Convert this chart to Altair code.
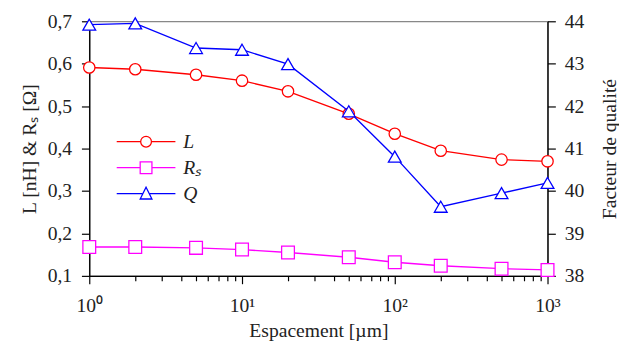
import altair as alt
import pandas as pd

spacing = [1, 2, 5, 10, 20, 50, 100, 200, 500, 1000]
L_vals = [0.591, 0.587, 0.574, 0.560, 0.535, 0.482, 0.435, 0.395, 0.374, 0.370]
Rs_vals = [0.168, 0.168, 0.166, 0.162, 0.155, 0.144, 0.132, 0.124, 0.117, 0.114]
Q_vals = [43.92, 43.95, 43.37, 43.33, 42.99, 41.88, 40.81, 39.63, 39.95, 40.19]

series_names = ["L", "Rₛ", "Q"]
series_colors = ["#ff0000", "#ff00ff", "#0000ff"]

x_ticks = [m * 10 ** k for k in range(3) for m in range(1, 10)] + [1000]

L_df = pd.DataFrame({"x": spacing, "v": L_vals, "s": "L"})
Rs_df = pd.DataFrame({"x": spacing, "v": Rs_vals, "s": "Rₛ"})
Q_df = pd.DataFrame({"x": spacing, "v": Q_vals, "s": "Q"})
leg_df = pd.DataFrame({"x": [1, 1, 1], "v": [0.4, 0.4, 0.4], "s": series_names})

FONT = "Liberation Serif"
FS = 20

xscale = alt.Scale(type="log", domain=[1, 1000], nice=False)
xaxis = alt.Axis(
    values=x_ticks,
    labelExpr="datum.value == 1 ? '10⁰' : datum.value == 10 ? '10¹' : datum.value == 100 ? '10²' : datum.value == 1000 ? '10³' : ''",
    tickSize={"condition": {"test": "indexof([1,10,100,1000], datum.value) >= 0", "value": 8}, "value": 5},
    title="Espacement [µm]",
    labelFlush=False,
    labelOverlap=False,
    labelPadding=12,
    titlePadding=6,
)
yleft_scale = alt.Scale(domain=[0.1, 0.7], nice=False, zero=False)
yleft_axis = alt.Axis(values=[0.1, 0.2, 0.3, 0.4, 0.5, 0.6, 0.7],
                      labelExpr="replace(format(datum.value, '.1f'), '.', ',')",
                      title="L [nH] & Rₛ [Ω]", titlePadding=8, tickSize=8, labelPadding=10)
yright_scale = alt.Scale(domain=[38, 44], nice=False, zero=False)
yright_axis = alt.Axis(orient="right", values=[38, 39, 40, 41, 42, 43, 44],
                       title="Facteur de qualité", titleAngle=270, titleBaseline="top",
                       titlePadding=16, tickSize=8, labelPadding=9)

color_scale = alt.Scale(domain=series_names, range=series_colors)
legend_paths = [
    "M-5.45,0H-1M1,0H5.45M1,0A1,1 0 1,1 -1,0A1,1 0 1,1 1,0",
    "M-5.45,0H-1.09M1.09,0H5.45M-1.09,-1.09H1.09V1.09H-1.09Z",
    "M-5.45,0H-0.7M0.7,0H5.45M0,-1.2L1.09,1L-1.09,1Z",
]
shape_scale = alt.Scale(domain=series_names, range=legend_paths)

legend = alt.Legend(
    title=None,
    orient="none",
    legendX=48,
    legendY=113,
    symbolSize=121,
    symbolStrokeWidth=1.3,
    symbolFillColor="white",
    symbolOpacity=1,
    labelOffset=28,
    labelFont=FONT,
    labelFontSize=FS,
    labelFontStyle="italic",
    labelColor="#222222",
    rowPadding=6.5,
)


def series_layers(df, shape, size):
    base = alt.Chart(df)
    line = base.mark_line(strokeWidth=1.4).encode(
        x=alt.X("x:Q", scale=xscale),
        y=alt.Y("v:Q"),
        stroke=alt.Stroke("s:N", scale=color_scale),
    )
    pts = base.mark_point(filled=True, fill="white", strokeWidth=1.3, size=size, opacity=1, shape=shape).encode(
        x=alt.X("x:Q", scale=xscale),
        y=alt.Y("v:Q"),
        stroke=alt.Stroke("s:N", scale=color_scale),
    )
    return line, pts


lL, pL = series_layers(L_df, "circle", 135)
lR, pR = series_layers(Rs_df, "square", 170)
lQ, pQ = series_layers(Q_df, "triangle-up", 170)

axis_anchor = alt.Chart(L_df).mark_line(opacity=0).encode(
    x=alt.X("x:Q", scale=xscale, axis=xaxis),
    y=alt.Y("v:Q", scale=yleft_scale, axis=yleft_axis),
)

legend_layer = alt.Chart(leg_df).mark_point(
    filled=True, fill="white", strokeWidth=1.3, size=121, opacity=0
).encode(
    x=alt.X("x:Q", scale=xscale),
    y=alt.Y("v:Q"),
    stroke=alt.Stroke("s:N", scale=color_scale, legend=legend),
    shape=alt.Shape("s:N", scale=shape_scale, legend=legend),
)

left = alt.layer(axis_anchor, lL, lR, pL, pR, legend_layer)

q_anchor = alt.Chart(Q_df).mark_line(opacity=0).encode(
    x=alt.X("x:Q", scale=xscale),
    y=alt.Y("v:Q", scale=yright_scale, axis=yright_axis),
)
right = alt.layer(q_anchor, lQ, pQ)

chart = alt.layer(left, right).resolve_scale(y="independent").properties(
    width=468, height=260, padding={"left": 12, "top": 0, "right": 0, "bottom": 0}
).configure_view(stroke="#888888", strokeWidth=1.2).configure_axis(
    labelFont=FONT, labelFontSize=FS, labelColor="#222222",
    titleFont=FONT, titleFontSize=FS, titleFontWeight="normal", titleColor="#222222",
    domainColor="black", domainWidth=1.4, tickColor="black", tickWidth=1.2,
    grid=False,
)

chart.save("out.html", embed_options={"renderer": "svg", "actions": False})
